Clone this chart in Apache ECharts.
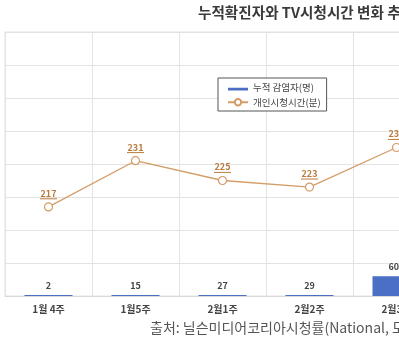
<!DOCTYPE html>
<html>
<head>
<meta charset="utf-8">
<script src="https://cdn.jsdelivr.net/npm/echarts@6/dist/echarts.min.js"></script>
<style>
  html, body { margin: 0; padding: 0; background: #fff; overflow: hidden; }
  #wrap { position: relative; width: 399px; height: 342px; overflow: hidden; }
  #chart { position: absolute; left: 0; top: 0; width: 470px; height: 342px; }
</style>
</head>
<body>
<div id="wrap"><div id="chart"></div></div>
<script>
// Weekly cumulative confirmed cases vs. personal TV viewing minutes
const weeks = ['1월 4주', '1월5주', '2월1주', '2월2주', '2월3주'];
const confirmedCases = [2, 15, 27, 29, 602];
const viewingMinutes = [217, 231, 225, 223, 235];

const FONT = '"Noto Sans CJK KR", "Noto Sans", sans-serif';
const lineColor = '#d49c66';
const labelColor = '#b97a3c';

const chart = echarts.init(document.getElementById('chart'), null, { renderer: 'canvas' });

chart.setOption({
  animation: false,
  backgroundColor: '#fff',
  textStyle: { fontFamily: FONT },
  graphic: [
    {
      type: 'text', left: 198, top: 5,
      style: { text: '누적확진자와 TV시청시간 변화 추이', font: 'bold 14.6px ' + FONT, fill: '#3a3a3a' }
    },
    {
      type: 'text', left: 150, top: 321,
      style: { text: '출처: 닐슨미디어코리아시청률(National, 도시지역)', font: '14px ' + FONT, fill: '#555' }
    }
  ],
  legend: {
    orient: 'vertical',
    left: 218, top: 78,
    padding: [5, 6, 4, 9],
    itemGap: 5,
    itemWidth: 20, itemHeight: 8,
    borderColor: '#555', borderWidth: 1,
    backgroundColor: '#fff',
    textStyle: { fontSize: 9.5, color: '#444', fontFamily: FONT },
    data: [
      { name: '누적 감염자(명)', icon: 'path://M0,0h20v0.01h-20z M0,2.6h20v2.8h-20z' },
      { name: '개인시청시간(분)' }
    ]
  },
  grid: {
    left: 5, top: 32, width: 435, height: 264, containLabel: false,
    show: true, borderColor: '#e3e3e3', borderWidth: 1
  },
  xAxis: {
    type: 'category',
    data: weeks,
    boundaryGap: true,
    axisLine: { show: true, lineStyle: { color: '#d9d9d9' } },
    axisTick: { show: false },
    splitLine: { show: true, interval: 0, lineStyle: { color: '#e3e3e3', width: 1 } },
    axisLabel: { fontSize: 10, color: '#444', fontWeight: 'bold', margin: 8, interval: 0 }
  },
  yAxis: [
    {
      type: 'value', min: 0, max: 8000, interval: 1000,
      axisLabel: { show: false }, axisLine: { show: false }, axisTick: { show: false },
      splitLine: { show: true, lineStyle: { color: '#e3e3e3', width: 1 } }
    },
    {
      type: 'value', min: 190, max: 270, interval: 10,
      axisLabel: { show: false }, axisLine: { show: false }, axisTick: { show: false },
      splitLine: { show: false }
    }
  ],
  series: [
    {
      name: '누적 감염자(명)',
      type: 'bar',
      data: confirmedCases,
      barWidth: 48,
      barMinHeight: 1,
      itemStyle: { color: '#4a6fc4' },
      label: {
        show: true, position: 'top', distance: 5,
        fontSize: 9, color: '#444', fontWeight: 'bold'
      }
    },
    {
      name: '개인시청시간(분)',
      type: 'line',
      yAxisIndex: 1,
      data: viewingMinutes,
      symbol: 'circle',
      symbolSize: 8,
      lineStyle: { color: lineColor, width: 1.3 },
      itemStyle: { color: '#fff', borderColor: lineColor, borderWidth: 1.2 },
      label: {
        show: true, position: 'top', distance: 3,
        formatter: p => '{v|' + p.value + '}\n{u|}',
        rich: {
          v: { fontSize: 9, fontWeight: 'bold', color: labelColor, lineHeight: 10, align: 'center' },
          u: { height: 1, width: 17, backgroundColor: labelColor, align: 'center' }
        }
      },
      z: 5
    }
  ]
});
</script>
</body>
</html>
